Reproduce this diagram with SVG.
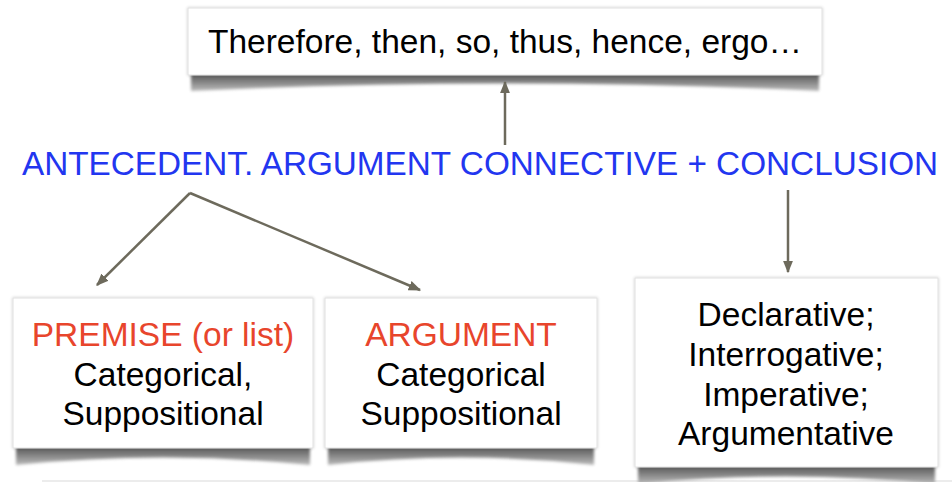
<svg xmlns="http://www.w3.org/2000/svg" width="952" height="482" viewBox="0 0 952 482">
<style>
.t{font-family:"Liberation Sans",Arial,sans-serif;font-size:33.5px;fill:#000;text-anchor:middle}
.red{fill:#e8452c}
.blue{font-family:"Liberation Sans",Arial,sans-serif;font-size:33.3px;fill:#2236f0}
.box{fill:#fff;stroke:#e0e0e0;stroke-width:1}
.sh{fill:url(#shg);filter:url(#blur)}
.conn{stroke:#6d6a5c;stroke-width:2.5;fill:none;marker-end:url(#ah)}
</style>
<defs>
<linearGradient id="shg" x1="0" y1="0" x2="0" y2="1"><stop offset="0" stop-color="#555"/><stop offset="1" stop-color="#bbb"/></linearGradient>
<filter id="blur" x="-10%" y="-50%" width="120%" height="200%"><feGaussianBlur stdDeviation="1.8"/></filter>
<filter id="soft" x="-5%" y="-5%" width="110%" height="110%"><feDropShadow dx="0" dy="0" stdDeviation="1.5" flood-color="#000" flood-opacity="0.22"/></filter>
<marker id="ah" viewBox="0 0 10 10" refX="9" refY="5" markerWidth="5" markerHeight="5" orient="auto" markerUnits="strokeWidth"><path d="M0,1 L10,5 L0,9 Z" fill="#6d6a5c"/></marker>
</defs>
<rect width="952" height="482" fill="#fff"/>
<line x1="42" y1="481" x2="952" y2="481" stroke="#e6e6e6" stroke-width="1.5"/>
<g id="conclusion-words">
<path class="sh" d="M191,74 L819,74 L819,91 Q505,76 191,91 Z"/>
<rect class="box" x="188" y="8" width="634" height="67" filter="url(#soft)"/>
<text class="t" x="505" y="53">Therefore, then, so, thus, hence, ergo…</text>
</g>
<g id="formula">
<text class="blue" x="22" y="175">ANTECEDENT. ARGUMENT CONNECTIVE + CONCLUSION</text>
</g>
<g id="premise">
<path class="sh" d="M16,447 L310,447 L310,465 Q163,450 16,465 Z"/>
<rect class="box" x="13" y="298" width="300" height="150" filter="url(#soft)"/>
<text class="t red" x="163" y="346">PREMISE (or list)</text>
<text class="t" x="163" y="386">Categorical,</text>
<text class="t" x="163" y="425">Suppositional</text>
</g>
<g id="argument">
<path class="sh" d="M328,447 L594,447 L594,465 Q461,450 328,465 Z"/>
<rect class="box" x="325" y="298" width="272" height="150" filter="url(#soft)"/>
<text class="t red" x="461" y="346">ARGUMENT</text>
<text class="t" x="461" y="386">Categorical</text>
<text class="t" x="461" y="425">Suppositional</text>
</g>
<g id="sentence-types">
<path class="sh" d="M638,466 L935,466 L935,484 Q786,469 638,484 Z"/>
<rect class="box" x="635" y="278" width="303" height="189" filter="url(#soft)"/>
<text class="t" x="786" y="326">Declarative;</text>
<text class="t" x="786" y="366">Interrogative;</text>
<text class="t" x="786" y="406">Imperative;</text>
<text class="t" x="786" y="445">Argumentative</text>
</g>
<g id="connectors">
<line class="conn" x1="505" y1="145" x2="505" y2="82"/>
<line class="conn" x1="190" y1="193" x2="97" y2="285"/>
<line class="conn" x1="190" y1="193" x2="420" y2="290"/>
<line class="conn" x1="788" y1="190" x2="788" y2="272"/>
</g>
</svg>
